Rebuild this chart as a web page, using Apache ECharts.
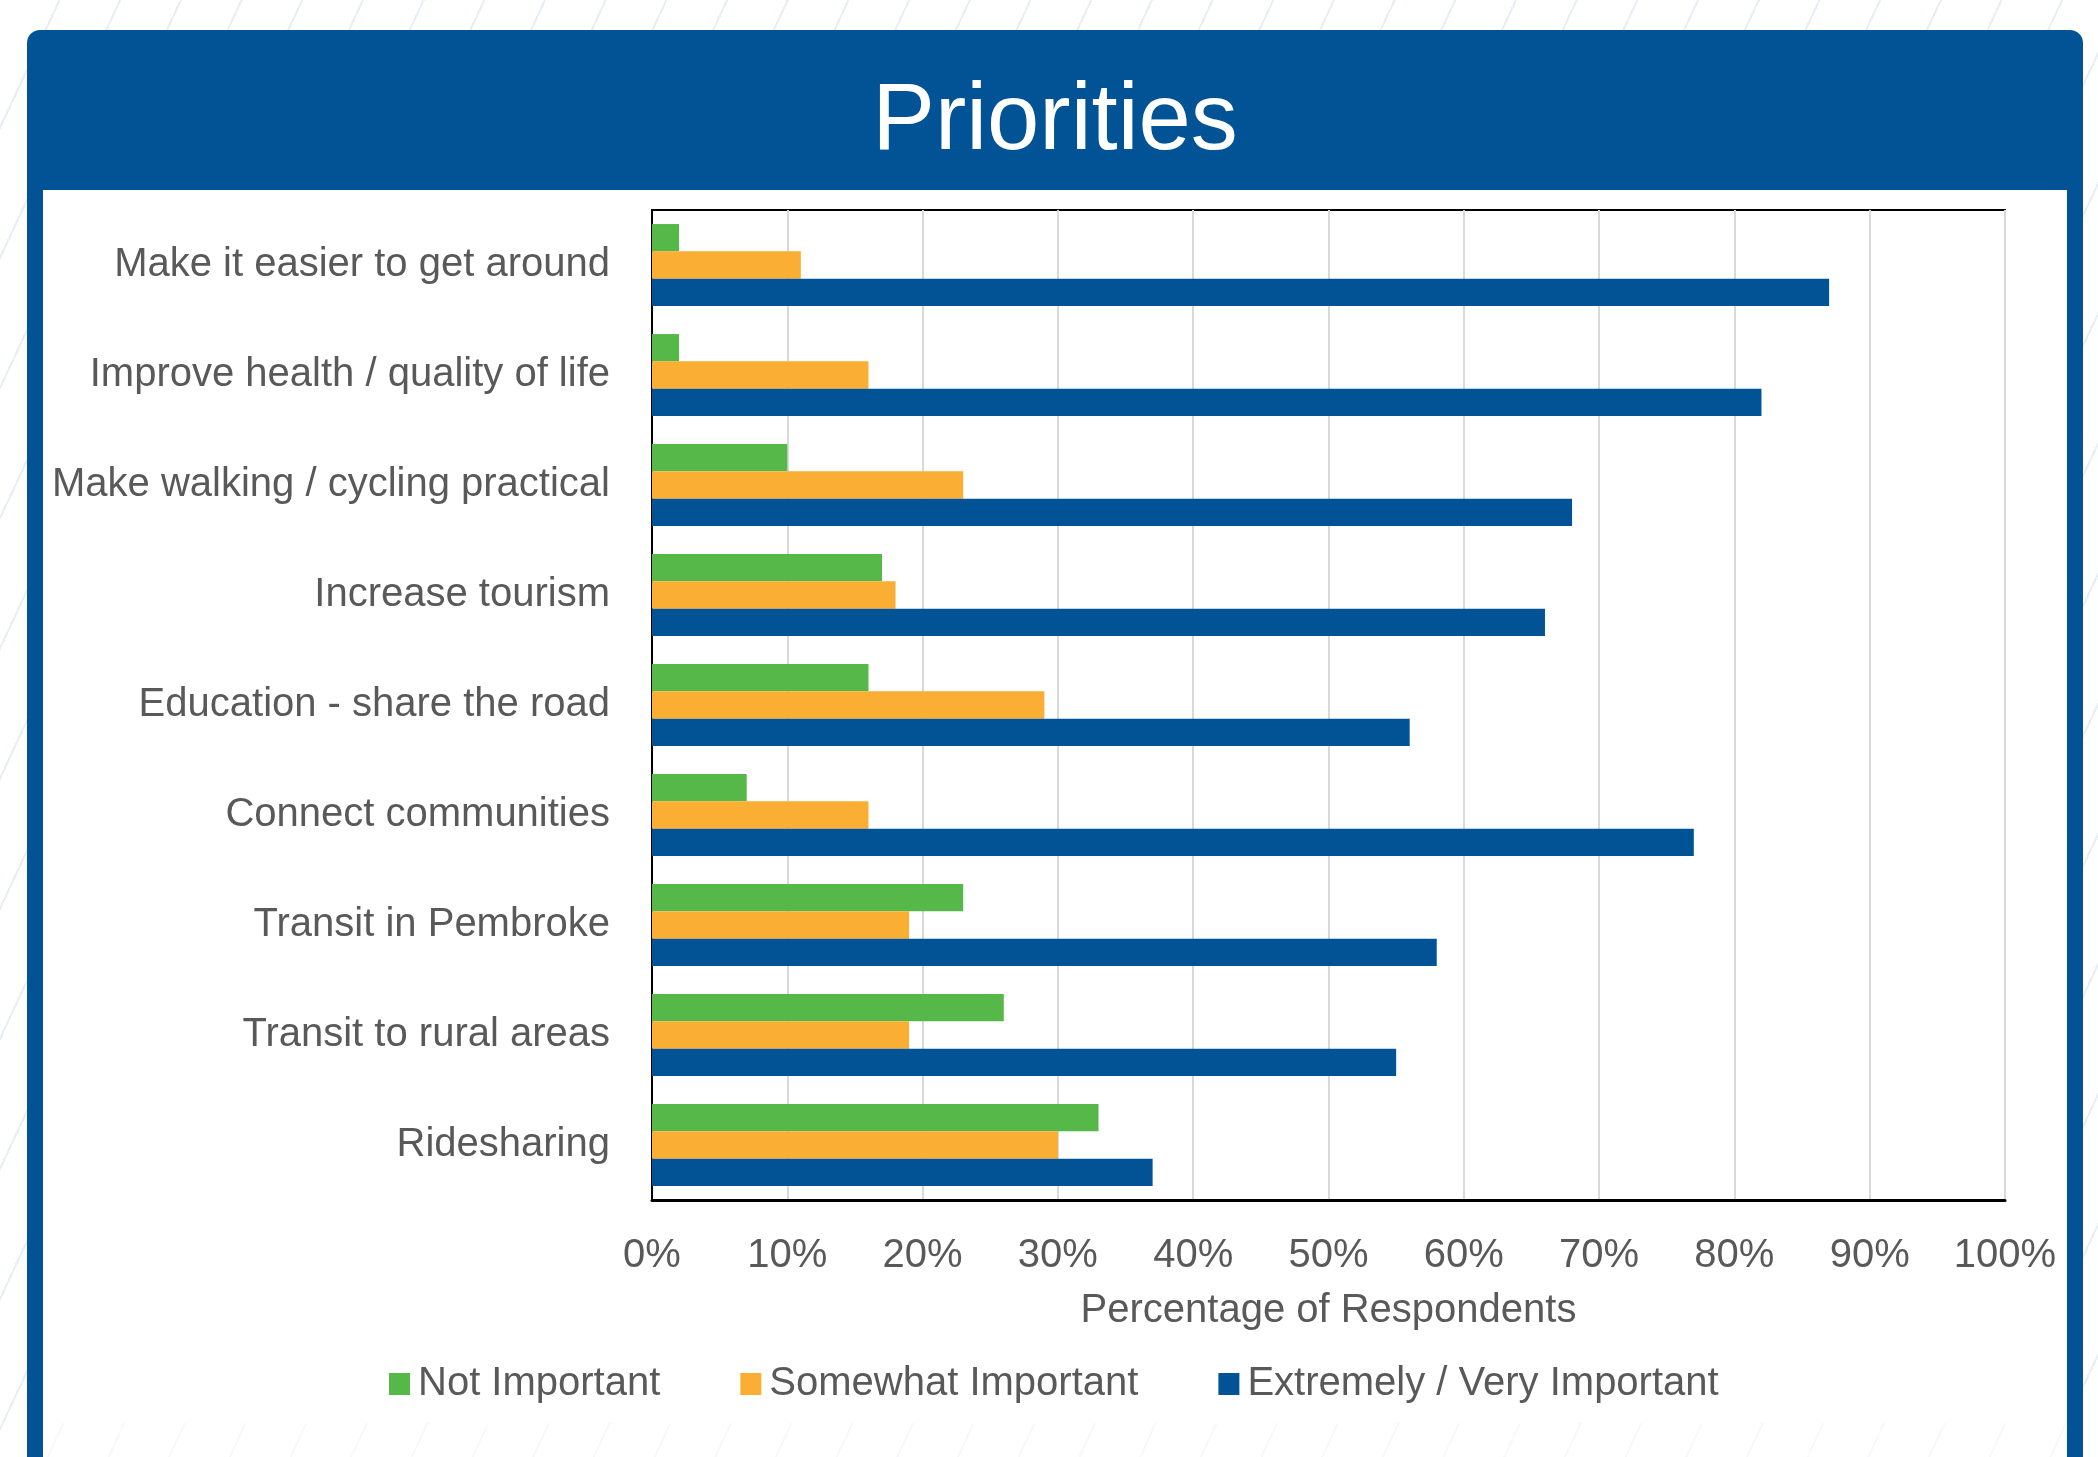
<!DOCTYPE html>
<html>
<head>
<meta charset="utf-8">
<title>Priorities</title>
<script src="https://cdn.jsdelivr.net/npm/echarts@6/dist/echarts.min.js"></script>
<style>
  html, body { margin: 0; padding: 0; }
  body {
    width: 2098px; height: 1457px; overflow: hidden;
    background-color: #ffffff;
    background-image: repeating-linear-gradient(115deg, rgba(255,255,255,0) 0px, rgba(255,255,255,0) 53px, #e9edf5 53px, #e9edf5 55px);
  }
  #chart { width: 2098px; height: 1457px; }
</style>
</head>
<body>
<div id="chart"></div>
<script>
// Survey categories, top to bottom
const categories = [
  'Make it easier to get around',
  'Improve health / quality of life',
  'Make walking / cycling practical',
  'Increase tourism',
  'Education - share the road',
  'Connect communities',
  'Transit in Pembroke',
  'Transit to rural areas',
  'Ridesharing'
];

// Share of respondents (%) per rating
const notImportant      = [2, 2, 10, 17, 16, 7, 23, 26, 33];
const somewhatImportant = [11, 16, 23, 18, 29, 16, 19, 19, 30];
const veryImportant     = [87, 82, 68, 66, 56, 77, 58, 55, 37];

const seriesNames = ['Not Important', 'Somewhat Important', 'Extremely / Very Important'];

// Value axis ticks
const axisMin = 0;
const axisMax = 100;
const axisStep = 10;

const FONT = '"Liberation Sans", Arial, sans-serif';
const TEXT = '#595959';
const BLUE = '#025396';
const GREEN = '#57b84a';
const ORANGE = '#faaf34';

const chart = echarts.init(document.getElementById('chart'), null, { renderer: 'canvas' });

const option = {
  backgroundColor: 'transparent',
  textStyle: { fontFamily: FONT },
  graphic: {
    elements: [
      // header band with rounded top corners
      {
        type: 'rect', z: -20, silent: true,
        shape: { x: 27, y: 30, width: 2056, height: 170, r: [13, 13, 0, 0] },
        style: { fill: BLUE }
      },
      // side borders of the panel
      {
        type: 'rect', z: -20, silent: true,
        shape: { x: 27, y: 190, width: 16, height: 1280 },
        style: { fill: BLUE }
      },
      {
        type: 'rect', z: -20, silent: true,
        shape: { x: 2067, y: 190, width: 16, height: 1280 },
        style: { fill: BLUE }
      },
      // white content panel
      {
        type: 'rect', z: -19, silent: true,
        shape: { x: 43, y: 190, width: 2024, height: 1233 },
        style: { fill: '#ffffff' }
      },
      // softened strip at the foot of the panel
      {
        type: 'rect', z: -19, silent: true,
        shape: { x: 43, y: 1423, width: 2024, height: 40 },
        style: { fill: 'rgba(255,255,255,0.6)' }
      },
      {
        type: 'text', z: 10, silent: true,
        x: 1055, y: 123,
        style: {
          text: 'Priorities',
          fill: '#ffffff',
          font: '94px ' + FONT,
          align: 'center',
          verticalAlign: 'middle'
        }
      }
    ]
  },
  color: [GREEN, ORANGE, BLUE],
  legend: {
    data: seriesNames,
    left: 389,
    top: 1364,
    padding: 0,
    icon: 'rect',
    itemWidth: 21,
    itemHeight: 22,
    itemGap: 80,
    textStyle: { fontSize: 40, color: TEXT, fontFamily: FONT, padding: [0, 0, 0, 3] }
  },
  grid: {
    left: 652,
    right: 93,
    top: 210,
    bottom: 257,
    containLabel: false,
    outerBoundsMode: 'none',
    show: true,
    borderColor: '#000000',
    borderWidth: 2,
    backgroundColor: 'transparent'
  },
  xAxis: {
    type: 'value',
    min: axisMin,
    max: axisMax,
    interval: axisStep,
    axisLine: { show: true, lineStyle: { color: '#000000', width: 3 } },
    axisTick: { show: false },
    splitLine: { show: true, lineStyle: { color: '#d9d9d9', width: 2 } },
    axisLabel: {
      formatter: '{value}%',
      fontSize: 40,
      color: TEXT,
      fontFamily: FONT,
      margin: 36
    },
    name: 'Percentage of Respondents',
    nameLocation: 'middle',
    nameGap: 91,
    nameTextStyle: { fontSize: 40, color: TEXT, fontFamily: FONT }
  },
  yAxis: {
    type: 'category',
    inverse: true,
    data: categories,
    axisLine: { show: true, lineStyle: { color: '#000000', width: 2 } },
    axisTick: { show: false },
    splitLine: { show: false },
    axisLabel: { fontSize: 40, color: TEXT, fontFamily: FONT, margin: 42 }
  },
  series: [
    { name: seriesNames[0], type: 'bar', data: notImportant, barWidth: 27.3, barGap: '0%', itemStyle: { color: GREEN } },
    { name: seriesNames[1], type: 'bar', data: somewhatImportant, barWidth: 27.3, barGap: '0%', itemStyle: { color: ORANGE } },
    { name: seriesNames[2], type: 'bar', data: veryImportant, barWidth: 27.3, barGap: '0%', itemStyle: { color: BLUE } }
  ],
  animation: false
};

chart.setOption(option);
</script>
</body>
</html>
